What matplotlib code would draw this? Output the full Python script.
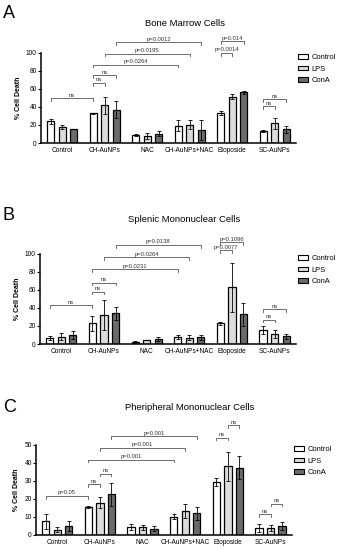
import matplotlib
matplotlib.use("Agg")
from matplotlib import pyplot as plt
from matplotlib.patches import Patch
import numpy as np

plt.rcParams["font.family"] = ["Liberation Sans", "DejaVu Sans"]

categories = ["Control", "CH-AuNPs", "NAC", "CH-AuNPs+NAC", "Etoposide", "SC-AuNPs"]
series = ["Control", "LPS", "ConA"]
colors = ["white", "#dcdcdc", "#6b6b6b"]

# Bone marrow
bm_vals = [[24, 33, 8.5, 19, 33, 13],
           [18, 42, 8, 20.5, 51.5, 22],
           [15.5, 37, 10.5, 14.5, 56, 15]]
bm_err = [[3, 0.5, 1, 6, 2.5, 1],
          [2, 9.5, 3.5, 5, 2.5, 6],
          [0.5, 9.5, 3, 11.5, 2, 3.5]]

# Splenic
sp_vals = [[7, 23, 2.5, 8, 23, 15.5],
           [8, 32, 4.5, 7, 63, 11.5],
           [10, 34, 5.5, 7.5, 33, 8.5]]
sp_err = [[2, 8.5, 1, 2, 1.5, 4.5],
          [4, 17, 0.5, 2.5, 27, 4.5],
          [4.5, 7, 2.5, 2.5, 13, 2.5]]

# Peripheral
pe_vals = [[7.5, 15.5, 4.2, 10.2, 29.5, 3.8],
           [3, 18, 4.2, 13.2, 38, 4],
           [5, 22.5, 3.5, 12, 37.3, 4.8]]
pe_err = [[4, 0.8, 1.7, 1.2, 2.2, 2.2],
          [1.2, 3, 1.3, 4, 8, 1.6],
          [2.7, 6.3, 1.3, 3.6, 6.3, 2.3]]

# brackets: (group1, series1, group2, series2, y, label)
bm_brackets = [(0, 0, 1, 0, 50, "ns"), (1, 0, 1, 1, 66.7, "ns"), (1, 0, 1, 2, 75, "ns"),
               (1, 0, 3, 0, 87, "p=0.0264"), (1, 1, 3, 1, 99, "p=0.0195"),
               (1, 2, 3, 2, 112, "p=0.0012"), (4, 0, 4, 1, 100, "p=0.0014"),
               (4, 0, 4, 2, 113, "p=0.014"), (5, 0, 5, 1, 41, "ns"), (5, 0, 5, 2, 48.5, "ns")]
sp_brackets = [(0, 0, 1, 0, 43, "ns"), (1, 0, 1, 1, 58, "ns"), (1, 0, 1, 2, 68, "ns"),
               (1, 0, 3, 0, 83, "p=0.0231"), (1, 1, 3, 1, 96, "p=0.0264"),
               (1, 2, 3, 2, 110, "p=0.0138"), (4, 0, 4, 1, 104, "p=0.0077"),
               (4, 0, 4, 2, 113, "p=0.1096"), (5, 0, 5, 1, 27, "ns"), (5, 0, 5, 2, 38.5, "ns")]
pe_brackets = [(0, 0, 1, 0, 21.7, "p=0.05"), (1, 0, 1, 1, 28, "ns"), (1, 1, 1, 2, 34, "ns"),
               (1, 0, 3, 0, 41.8, "p=0.001"), (1, 1, 3, 1, 48.3, "p=0.001"),
               (1, 2, 3, 2, 54.8, "p=0.001"), (4, 0, 4, 1, 54, "ns"),
               (4, 1, 4, 2, 61, "ns"), (5, 0, 5, 1, 11.7, "ns"), (5, 1, 5, 2, 17.3, "ns")]

W, H = 339, 550

# letter, title, data, ymax, step, axes rect, title (x, y) px, letter y px, legend (x, y) px
panels = [
    ("A", "Bone Marrow Cells", bm_vals, bm_err, bm_brackets, 100, 20,
     [0.121, 0.740, 0.752, 0.164], (185, 23), 14, (298, 54)),
    ("B", "Splenic Mononuclear Cells", sp_vals, sp_err, sp_brackets, 100, 20,
     [0.118, 0.3745, 0.755, 0.164], (184, 219), 215, (298, 255)),
    ("C", "Pheripheral Mononuclear Cells", pe_vals, pe_err, pe_brackets, 50, 10,
     [0.106, 0.0273, 0.755, 0.164], (190, 408), 407, (294, 446)),
]

offset = 0.27
width = 0.17

fig = plt.figure(figsize=(W / 100, H / 100), dpi=100)

for letter, title, vals, errs, brackets, ymax, ystep, rect, tpos, ly, lpos in panels:
    ax = fig.add_axes(rect)
    x = np.arange(len(categories))
    for i, s in enumerate(series):
        ax.bar(x + (i - 1) * offset, vals[i], width, color=colors[i],
               edgecolor="black", linewidth=0.9, label=s, zorder=2)
        ax.errorbar(x + (i - 1) * offset, vals[i], yerr=errs[i], fmt="none",
                    ecolor="black", elinewidth=0.6, capsize=1.5, capthick=0.6, zorder=3)
    ax.set_xlim(-0.5, 5.5)
    ax.set_ylim(0, ymax)
    ax.set_yticks(np.arange(0, ymax + 1, ystep))
    ax.set_xticks(x)
    ax.set_xticklabels(categories, fontsize=4.7)
    ax.tick_params(axis="x", length=0, pad=3)
    ax.tick_params(axis="y", labelsize=4.8, length=2, width=0.8, pad=1)
    for side in ["top", "right"]:
        ax.spines[side].set_visible(False)
    for side in ["left", "bottom"]:
        ax.spines[side].set_linewidth(1.1)
    ax.set_ylabel("% Cell Death", fontsize=5, fontweight="bold", labelpad=3)

    tick = ymax * 0.03
    for g1, s1, g2, s2, y, lab in brackets:
        x1 = g1 + (s1 - 1) * offset
        x2 = g2 + (s2 - 1) * offset
        ax.plot([x1, x1, x2, x2], [y - tick, y, y, y - tick], color="#555555",
                linewidth=0.6, clip_on=False)
        ax.text((x1 + x2) / 2, y + ymax * 0.004, lab, ha="center", va="bottom",
                fontsize=4.2, color="#333333", clip_on=False)

    fig.text(tpos[0] / W, 1 - tpos[1] / H, title, ha="center", va="center",
             fontsize=6.8)
    fig.text(0.008, 1 - ly / H, letter, ha="left", va="center", fontsize=13)

    handles = [Patch(facecolor=c, edgecolor="black", linewidth=0.8) for c in colors]
    ax.legend(handles, series, loc="upper left",
              bbox_to_anchor=(lpos[0] / W, 1 - lpos[1] / H),
              bbox_transform=fig.transFigure, borderaxespad=0, borderpad=0,
              frameon=False, fontsize=5.4, handlelength=1.3, handleheight=0.6,
              handletextpad=0.5, labelspacing=0.6)

fig.savefig("out.png", dpi=100)
